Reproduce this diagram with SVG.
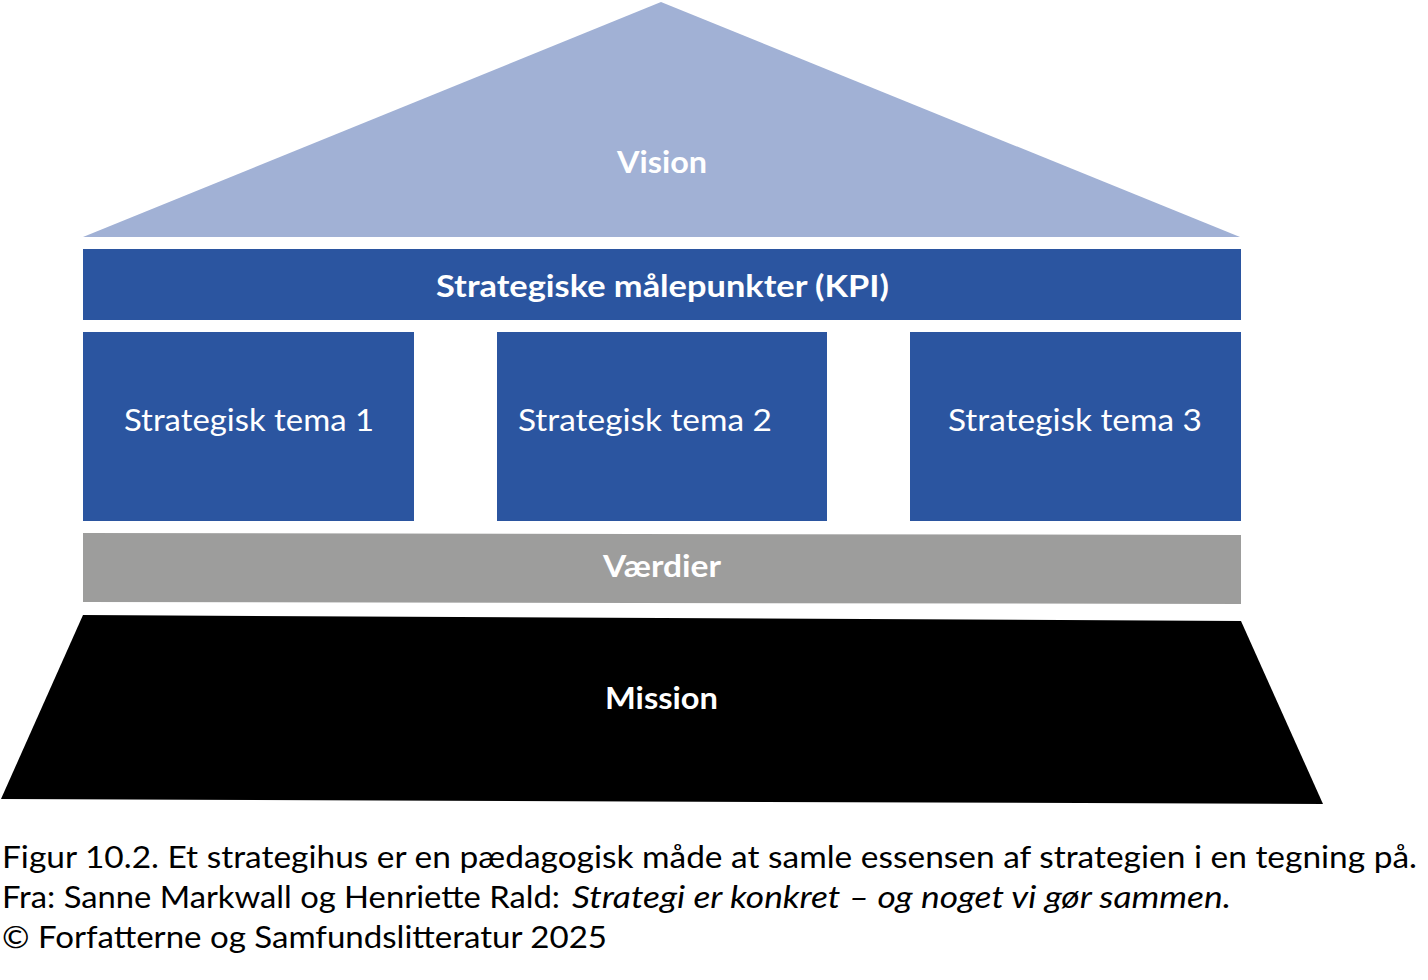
<svg xmlns="http://www.w3.org/2000/svg" width="1428" height="980" viewBox="0 0 1428 980">
<style>
.lbl{font-family:Lato,"Noto Sans","Liberation Sans",sans-serif;fill:#ffffff}
.b{font-weight:700;font-size:31px}
.r{font-weight:400;font-size:31px}
.cap{font-family:Lato,"Noto Sans","Liberation Sans",sans-serif;font-size:31px;fill:#000000}
.it{font-style:italic}
.blue{fill:#2B55A0}
</style>
<rect width="1428" height="980" fill="#ffffff"/>
<g id="vision">
<polygon points="661,2 1240,237 83,237" fill="#A1B1D5"/>
<text class="lbl b" x="662" y="173" text-anchor="middle" textLength="90" lengthAdjust="spacingAndGlyphs">Vision</text>
</g>
<g id="kpi">
<rect class="blue" x="83" y="249" width="1158" height="71"/>
<text class="lbl b" x="436" y="297" textLength="453" lengthAdjust="spacingAndGlyphs">Strategiske målepunkter (KPI)</text>
</g>
<g id="tema1">
<rect class="blue" x="83" y="332" width="331" height="189"/>
<text class="lbl r" x="124" y="431" textLength="250" lengthAdjust="spacingAndGlyphs">Strategisk tema 1</text>
</g>
<g id="tema2">
<rect class="blue" x="497" y="332" width="330" height="189"/>
<text class="lbl r" x="518" y="431" textLength="254" lengthAdjust="spacingAndGlyphs">Strategisk tema 2</text>
</g>
<g id="tema3">
<rect class="blue" x="910" y="332" width="331" height="189"/>
<text class="lbl r" x="948" y="431" textLength="254" lengthAdjust="spacingAndGlyphs">Strategisk tema 3</text>
</g>
<g id="vaerdier">
<polygon points="83,533 1241,535 1241,604 83,602" fill="#9D9D9C"/>
<text class="lbl b" x="603" y="577" textLength="118" lengthAdjust="spacingAndGlyphs">Værdier</text>
</g>
<g id="mission">
<polygon points="83,615 1241,621 1323,804 1,799" fill="#000000"/>
<text class="lbl b" x="605" y="709" textLength="113" lengthAdjust="spacingAndGlyphs">Mission</text>
</g>
<g id="connectors"></g>
<g id="caption">
<text class="cap" x="2" y="868" textLength="1415" lengthAdjust="spacingAndGlyphs">Figur 10.2. Et strategihus er en pædagogisk måde at samle essensen af strategien i en tegning på.</text>
<text class="cap" x="2" y="908" textLength="558" lengthAdjust="spacingAndGlyphs">Fra: Sanne Markwall og Henriette Rald:</text>
<text class="cap it" x="572" y="908" textLength="659" lengthAdjust="spacingAndGlyphs">Strategi er konkret – og noget vi gør sammen.</text>
<text class="cap" x="2" y="948" textLength="605" lengthAdjust="spacingAndGlyphs">© Forfatterne og Samfundslitteratur 2025</text>
</g>
</svg>
